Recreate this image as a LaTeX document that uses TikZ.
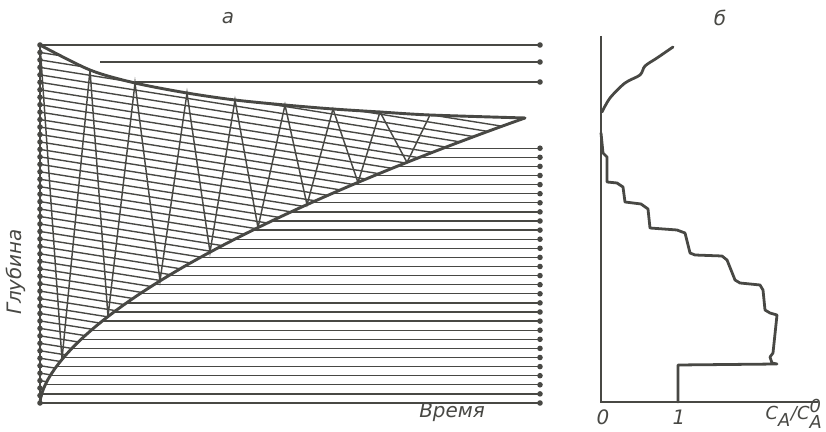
\documentclass[tikz,border=0pt]{standalone}
\usepackage{fontspec}
\setmainfont{DejaVu Sans}
\usetikzlibrary{calc}
\definecolor{ink}{RGB}{72,72,68}

\begin{document}
\begin{tikzpicture}[
    x=0.0265cm, y=-0.0265cm,
    font=\itshape\fontsize{15}{17}\selectfont,
    declare function={lowx(\d)=40+70*(\d/88)^1.647; lowy(\x)=403-88*((\x-40)/70)^0.607;},
    layer/.style={draw=ink, line width=1.05pt},
    zig/.style={draw=ink, line width=1.1pt, line join=miter},
    front/.style={draw=ink, line width=2.2pt, line cap=round},
    axis/.style={draw=ink, line width=1.2pt},
    profile/.style={draw=ink, line width=2.1pt, line join=round, line cap=round},
    stop/.style={circle, fill=ink, inner sep=0pt, minimum size=4.2pt},
    lbl/.style={text=ink, inner sep=1pt}
  ]
  \useasboundingbox (0,0) rectangle (826,432);

  % layers inside the mixed zone
  \begin{scope}
    \clip plot[smooth] coordinates {(40,45) (90,70) (135,83) (187,93) (235,100) (285,105) (333,109) (380,112) (430,115) (525,118)}
      -- plot[domain=285:0.2, variable=\d, samples=60] ({lowx(\d)},{403-\d}) -- cycle;
    \foreach \i in {1,...,47}
      \draw[layer] (40,{45+7.458*\i}) -- ++(520,83);
  \end{scope}

  % layers below the lower front
  \foreach \j in {1,...,28}{
    \pgfmathsetmacro\yr{403-9.1*\j}
    \draw[layer] ({lowx(403-\yr)},\yr) -- (540,\yr);
    \node[stop] (r\j) at (540,\yr) {};
  }
  \draw[layer] (40,403) -- (540,403);
  \node[stop] (r0) at (540,403) {};

  % layers above the upper front
  \draw[layer] (40,45) -- (540,45);
  \draw[layer] (100,62) -- (540,62);
  \draw[layer] (135,82) -- (540,82);
  \node[stop] (ra) at (540,45) {};
  \node[stop] (rb) at (540,62) {};
  \node[stop] (rc) at (540,82) {};

  % zigzag between the fronts
  \draw[zig] (40,45) -- (62,{lowy(62)}) -- (90,70) -- (108,{lowy(108)}) -- (135,83)
    -- (160,{lowy(160)}) -- (187,93) -- (210,{lowy(210)}) -- (235,100)
    -- (258,{lowy(258)}) -- (285,105) -- (307,{lowy(307)}) -- (333,109)
    -- (358,{lowy(358)}) -- (380,112) -- (407,{lowy(407)}) -- (430,115);

  % fronts
  \draw[front] plot[smooth] coordinates {(40,45) (90,70) (135,83) (187,93) (235,100) (285,105) (333,109) (380,112) (430,115) (525,118)};
  \draw[front] plot[domain=0.2:285, variable=\d, samples=60] ({lowx(\d)},{403-\d});

  % starting column
  \draw[layer] (40,45) -- (40,403);
  \foreach \i in {0,...,48}
    \node[stop] (l\i) at (40,{45+7.458*\i}) {};

  % panel b: concentration profile
  \draw[axis] (601,36) -- (601,402) -- (818,402);
  \draw[profile] plot[smooth] coordinates {(602,112) (610,98) (625,83) (640,75) (645,66) (657,58) (673,47)};
  \draw[profile] (601,133) -- (603,153) -- (607,157) -- (607,182) -- (617,183) -- (623,187)
    -- (625,202) -- (641,204) -- (648,209) -- (650,228) -- (677,230) -- (685,233)
    -- (690,253) -- (695,255) -- (722,256) -- (727,260) -- (735,280) -- (740,283)
    -- (760,285) -- (763,290) -- (765,310) -- (770,313) -- (777,315) -- (773,353)
    -- (770,357) -- (772,363) -- (777,364) -- (678,365) -- (678,402);

  % labels
  \node[lbl] (capa) at (228,18) {а};
  \node[lbl] (capb) at (720,18) {б};
  \node[lbl, rotate=90] (depth) at (16,272) {Глубина};
  \node[lbl] (time) at (452,412) {Время};
  \node[lbl] (zero) at (603,417) {0};
  \node[lbl] (one) at (679,417) {1};
  \node[lbl, anchor=east, font=\itshape\fontsize{13.5}{15}\selectfont] (ratio) at (824,414)
    {C$_{\textit{A}}$/C$^{\textit{0}}_{\textit{A}}$};
\end{tikzpicture}
\end{document}
